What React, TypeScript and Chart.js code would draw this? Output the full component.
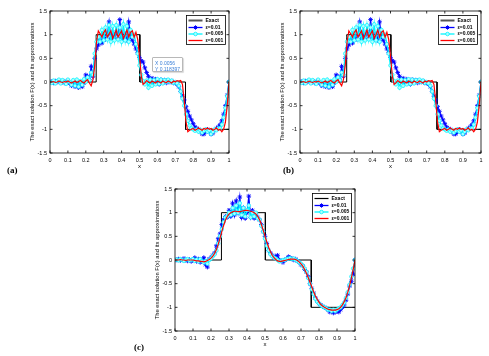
import React, { useEffect, useRef } from "react";
import { Chart, registerables } from "chart.js";
Chart.register(...registerables);

// ---------- data ----------
const exactX = [0, 0.258, 0.258, 0.502, 0.502, 0.757, 0.757, 1];
const exactY = [0, 0, 1, 1, 0, 0, -1, -1];

const xTicks = [0, 0.1, 0.2, 0.3, 0.4, 0.5, 0.6, 0.7, 0.8, 0.9, 1];
const yTicks = [-1.5, -1, -0.5, 0, 0.5, 1, 1.5];

// panels (a) and (b)
const blueAB = [
  0, 0.01, -0.02, 0.02, 0.0, 0.03, -0.01, 0.02, -0.02, 0.01,
  0.03, -0.03, -0.08, -0.05, -0.1, -0.06, -0.12, -0.05, -0.1, -0.02,
  0.15, 0.12, 0.05, 0.33, 0.12, 0.5, 0.7, 0.78, 0.9, 0.82,
  0.95, 0.9, 0.98, 1.27, 0.92, 1.0, 0.9, 1.05, 0.92, 1.32,
  0.95, 0.9, 1.02, 0.88, 1.27, 0.95, 0.88, 0.8, 0.7, 0.62,
  0.52, 0.45, 0.42, 0.3, 0.2, 0.12, 0.05, 0.08, -0.02, 0.06,
  0.02, -0.05, 0.05, 0.0, 0.04, -0.02, 0.03, 0.0, 0.02, -0.02,
  -0.02, -0.05, -0.1, -0.2, -0.3, -0.38, -0.52, -0.62, -0.72, -0.8,
  -0.88, -0.95, -0.98, -1.0, -1.05, -1.1, -1.1, -1.05, -1.0, -1.05,
  -1.1, -1.08, -1.02, -0.98, -0.95, -0.9, -0.82, -0.68, -0.5, -0.28,
  0,
];
const cyanAB = [
  0, -0.02, 0.03, -0.03, 0.02, 0.05, -0.03, 0.04, 0.0, -0.04,
  0.05, 0.0, -0.06, 0.04, -0.08, 0.05, -0.1, 0.02, -0.06, 0.06,
  0.0, 0.1, 0.04, 0.2, 0.15, 0.6, 0.85, 0.95, 0.85, 1.1,
  0.88, 1.15, 0.9, 1.2, 0.85, 1.18, 0.88, 1.2, 0.9, 1.15,
  0.85, 1.22, 0.88, 1.18, 0.85, 1.1, 0.95, 1.0, 0.8, 0.6,
  0.35, 0.15, 0.02, -0.05, 0.03, -0.12, 0.05, -0.08, 0.04, -0.05,
  0.06, -0.04, 0.05, -0.03, 0.04, 0.0, 0.05, 0.0, 0.03, -0.02,
  0.0, -0.03, -0.08, -0.2, -0.35, -0.5, -0.68, -0.82, -0.92, -0.98,
  -1.0, -1.03, -1.0, -1.05, -1.02, -1.07, -1.03, -1.0, -1.05, -1.02,
  -1.1, -1.05, -1.0, -1.02, -0.98, -0.98, -0.9, -0.75, -0.55, -0.3,
  0,
];
const redAB = [
  0, 0.0, 0.01, -0.01, 0.0, 0.02, 0.0, -0.01, 0.01, 0.0,
  0.02, 0.0, -0.02, 0.0, 0.02, -0.01, 0.01, 0.03, 0.0, -0.02,
  0.02, 0.05, -0.02, -0.08, 0.05, 0.35, 0.85, 1.08, 1.02, 0.95,
  1.05, 1.1, 0.95, 1.02, 1.08, 0.92, 1.0, 1.1, 0.95, 1.02,
  1.08, 0.92, 1.0, 1.1, 0.95, 1.05, 1.08, 0.95, 1.05, 0.9,
  0.55, 0.12, -0.05, -0.02, 0.03, 0.0, -0.02, 0.02, 0.0, -0.02,
  0.02, 0.0, -0.02, 0.02, 0.0, -0.01, 0.02, 0.0, -0.02, 0.02,
  0.0, 0.03, 0.02, 0.03, -0.05, -0.4, -0.85, -1.05, -1.02, -1.0,
  -0.98, -1.02, -1.0, -0.97, -1.0, -1.02, -0.98, -1.0, -0.97, -1.0,
  -0.98, -1.02, -1.0, -0.97, -1.02, -1.0, -1.05, -1.0, -0.85, -0.5,
  0,
];

// panel (c)
const blueC = [
  0, 0.0, 0.02, -0.01, 0.01, 0.03, 0.0, -0.02, 0.01, -0.03,
  0.0, 0.05, -0.03, 0.02, -0.05, -0.02, 0.05, -0.1, -0.15, 0.02,
  0.05, 0.1, 0.15, 0.3, 0.45, 0.55, 0.75, 0.85, 0.92, 0.9,
  1.05, 0.92, 1.2, 0.95, 1.25, 1.0, 1.33, 0.9, 1.1, 0.88,
  1.0, 1.35, 0.9, 1.05, 0.88, 0.95, 0.9, 0.85, 0.75, 0.6,
  0.5, 0.35, 0.2, 0.15, 0.1, 0.05, 0.08, 0.1, 0.0, -0.02,
  -0.05, 0.0, 0.02, 0.07, 0.05, 0.03, 0.0, 0.02, -0.02, -0.05,
  -0.1, -0.12, -0.2, -0.25, -0.35, -0.5, -0.6, -0.7, -0.8, -0.87,
  -0.92, -0.95, -0.98, -1.0, -1.02, -1.05, -1.1, -1.08, -1.12, -1.1,
  -1.08, -1.1, -1.05, -1.0, -0.95, -0.85, -0.72, -0.55, -0.45, -0.3,
  0,
];
const cyanC = [
  0, 0.01, -0.01, 0.02, 0.0, -0.02, 0.01, 0.02, -0.01, 0.0,
  0.02, -0.02, 0.01, -0.03, 0.02, -0.02, -0.05, -0.02, -0.08, 0.0,
  0.03, 0.08, 0.12, 0.2, 0.35, 0.5, 0.65, 0.8, 0.9, 0.92,
  1.0, 0.95, 1.1, 0.98, 1.15, 1.0, 1.2, 0.95, 1.1, 0.92,
  1.05, 1.15, 0.9, 1.0, 0.92, 1.0, 0.88, 0.85, 0.72, 0.6,
  0.45, 0.3, 0.2, 0.12, 0.08, 0.05, 0.03, 0.0, -0.03, -0.02,
  0.0, 0.0, 0.02, 0.03, 0.04, 0.02, 0.03, 0.0, -0.02, -0.05,
  -0.08, -0.12, -0.18, -0.25, -0.38, -0.5, -0.62, -0.72, -0.82, -0.88,
  -0.92, -0.96, -0.98, -1.0, -1.02, -1.05, -1.05, -1.08, -1.05, -1.08,
  -1.05, -1.02, -1.0, -0.95, -0.9, -0.8, -0.68, -0.52, -0.35, -0.18,
  0,
];
const redC = [
  0, 0, 0, 0.01, 0, 0, -0.01, 0, 0, 0,
  0, -0.01, -0.02, -0.02, -0.03, -0.03, -0.04, -0.03, -0.01, 0.01,
  0.04, 0.08, 0.14, 0.22, 0.33, 0.46, 0.6, 0.73, 0.84, 0.92,
  0.97, 1.0, 1.02, 1.03, 1.03, 1.02, 1.02, 1.03, 1.04, 1.05,
  1.05, 1.04, 1.03, 1.02, 1.0, 0.97, 0.92, 0.85, 0.75, 0.63,
  0.5, 0.38, 0.27, 0.18, 0.1, 0.05, 0.01, -0.02, -0.03, -0.03,
  -0.02, -0.01, 0.0, 0.01, 0.02, 0.02, 0.02, 0.01, -0.01, -0.04,
  -0.08, -0.13, -0.2, -0.28, -0.37, -0.47, -0.57, -0.67, -0.76, -0.83,
  -0.89, -0.94, -0.97, -1.0, -1.02, -1.04, -1.05, -1.06, -1.06, -1.06,
  -1.05, -1.03, -1.0, -0.95, -0.88, -0.8, -0.68, -0.54, -0.38, -0.2,
  0,
];

const legendLabels = ["Exact", "ε=0.01", "ε=0.005", "ε=0.001"];
const yTitle = "The exact solution F(x) and its approximations";

// ---------- helpers ----------
const toPts = (ys: number[]) => ys.map((y, i) => ({ x: i / (ys.length - 1), y }));
const exactPts = () => exactX.map((x, i) => ({ x, y: exactY[i] }));

const FONT = "'Liberation Sans', Arial, sans-serif";
const BLUE = "#0000ff";
const CYAN = "#00f4ff";
const RED = "#ff0000";

type PanelProps = {
  left: number;
  top: number;
  W: number;
  H: number;
  plot: { l: number; t: number; r: number; b: number };
  blue: number[];
  cyan: number[];
  red: number[];
  legendExactColor: string;
  legendExactWidth: number;
};

function Panel(p: PanelProps) {
  const ref = useRef<HTMLCanvasElement | null>(null);
  useEffect(() => {
    if (!ref.current) return;
    const yW = 22;
    const xH = 18;
    const framePlugin = {
      id: "frame",
      afterDatasetsDraw(chart: any) {
        const { ctx, chartArea: a, scales } = chart;
        ctx.save();
        ctx.strokeStyle = "#000";
        ctx.lineWidth = 0.8;
        ctx.strokeRect(a.left, a.top, a.right - a.left, a.bottom - a.top);
        const tl = 2.5;
        ctx.beginPath();
        xTicks.forEach((v) => {
          const px = scales.x.getPixelForValue(v);
          ctx.moveTo(px, a.bottom);
          ctx.lineTo(px, a.bottom - tl);
          ctx.moveTo(px, a.top);
          ctx.lineTo(px, a.top + tl);
        });
        yTicks.forEach((v) => {
          const py = scales.y.getPixelForValue(v);
          ctx.moveTo(a.left, py);
          ctx.lineTo(a.left + tl, py);
          ctx.moveTo(a.right, py);
          ctx.lineTo(a.right - tl, py);
        });
        ctx.stroke();

        // legend
        const bw = 39, bh = 29;
        const bx = a.right - 42.5, by = a.top + 4.5;
        ctx.fillStyle = "#fff";
        ctx.fillRect(bx, by, bw, bh);
        ctx.lineWidth = 0.8;
        ctx.strokeStyle = "#000";
        ctx.strokeRect(bx, by, bw, bh);
        const rows = [5, 12, 18.5, 25];
        const styles = [
          { c: p.legendExactColor, w: p.legendExactWidth, m: "" },
          { c: BLUE, w: 1.3, m: "star" },
          { c: CYAN, w: 1.3, m: "circle" },
          { c: RED, w: 1.3, m: "" },
        ];
        ctx.font = `bold 5px ${FONT}`;
        ctx.textBaseline = "middle";
        rows.forEach((ry, i) => {
          const y = by + ry;
          const s = styles[i];
          ctx.strokeStyle = s.c;
          ctx.lineWidth = s.w;
          ctx.beginPath();
          ctx.moveTo(bx + 2, y);
          ctx.lineTo(bx + 16, y);
          ctx.stroke();
          const mx = bx + 9;
          if (s.m === "star") {
            ctx.lineWidth = 1;
            ctx.beginPath();
            for (let k = 0; k < 4; k++) {
              const ang = (k * Math.PI) / 4;
              ctx.moveTo(mx - 2.2 * Math.cos(ang), y - 2.2 * Math.sin(ang));
              ctx.lineTo(mx + 2.2 * Math.cos(ang), y + 2.2 * Math.sin(ang));
            }
            ctx.stroke();
          } else if (s.m === "circle") {
            ctx.lineWidth = 0.8;
            ctx.fillStyle = "rgba(170,255,255,1)";
            ctx.beginPath();
            ctx.arc(mx, y, 1.8, 0, Math.PI * 2);
            ctx.fill();
            ctx.stroke();
          }
          ctx.fillStyle = "#000";
          ctx.textAlign = "left";
          ctx.fillText(legendLabels[i], bx + 19, y);
        });
        ctx.restore();
      },
    };

    const chart = new Chart(ref.current, {
      type: "line",
      data: {
        datasets: [
          {
            label: legendLabels[0],
            data: exactPts(),
            borderColor: "#000",
            borderWidth: 1,
            pointRadius: 0,
            order: 4,
          },
          {
            label: legendLabels[1],
            data: toPts(p.blue),
            borderColor: BLUE,
            backgroundColor: BLUE,
            borderWidth: 1.2,
            pointStyle: "star",
            pointRadius: 2.3,
            pointBorderWidth: 0.9,
            order: 3,
          },
          {
            label: legendLabels[2],
            data: toPts(p.cyan),
            borderColor: CYAN,
            backgroundColor: "rgba(170,255,255,1)",
            borderWidth: 1.4,
            pointStyle: "circle",
            pointRadius: 1.8,
            pointBorderWidth: 0.7,
            order: 2,
          },
          {
            label: legendLabels[3],
            data: toPts(p.red),
            borderColor: RED,
            borderWidth: 1.2,
            pointRadius: 0,
            order: 1,
          },
        ],
      },
      options: {
        animation: false,
        responsive: false,
        devicePixelRatio: 1,
        events: [],
        layout: {
          padding: {
            left: p.plot.l - yW,
            top: p.plot.t,
            right: p.W - p.plot.r,
            bottom: p.H - p.plot.b - xH,
          },
        },
        plugins: { legend: { display: false }, tooltip: { enabled: false } },
        scales: {
          x: {
            type: "linear",
            min: 0,
            max: 1,
            afterFit: (s: any) => { s.height = xH; },
            afterBuildTicks: (s: any) => { s.ticks = xTicks.map((v) => ({ value: v })); },
            grid: { display: false, drawTicks: false },
            border: { display: false },
            ticks: {
              padding: 4,
              maxRotation: 0,
              autoSkip: false,
              color: "#000",
              font: { size: 5.5, family: FONT },
              callback: (v: any) => String(Math.round(Number(v) * 10) / 10),
            },
            title: {
              display: true,
              text: "x",
              color: "#000",
              padding: { top: 0, bottom: 1 },
              font: { size: 6, family: FONT },
            },
          },
          y: {
            type: "linear",
            min: -1.5,
            max: 1.5,
            afterFit: (s: any) => { s.width = yW; },
            afterBuildTicks: (s: any) => { s.ticks = yTicks.map((v) => ({ value: v })); },
            grid: { display: false, drawTicks: false },
            border: { display: false },
            ticks: {
              padding: 3,
              autoSkip: false,
              color: "#000",
              font: { size: 5.5, family: FONT },
              callback: (v: any) => String(v),
            },
            title: {
              display: true,
              text: yTitle,
              color: "#000",
              padding: { top: 1, bottom: 0 },
              font: { size: 5.8, family: FONT },
            },
          },
        },
      },
      plugins: [framePlugin],
    } as any);
    return () => chart.destroy();
  }, []);
  return (
    <canvas
      ref={ref}
      width={p.W}
      height={p.H}
      style={{ position: "absolute", left: p.left, top: p.top, width: p.W, height: p.H }}
    />
  );
}

const labelStyle = (left: number, top: number): React.CSSProperties => ({
  position: "absolute",
  left,
  top,
  font: "bold 9px 'Liberation Serif', serif",
  color: "#000",
  lineHeight: "10px",
});

export default function App() {
  return (
    <div style={{ position: "absolute", left: 0, top: 0, width: 489, height: 356, background: "#fff", overflow: "hidden" }}>
      <Panel left={0} top={0} W={240} H={180} plot={{ l: 50, t: 11, r: 229, b: 153 }}
        blue={blueAB} cyan={cyanAB} red={redAB} legendExactColor="#555" legendExactWidth={2} />
      <Panel left={249} top={0} W={240} H={180} plot={{ l: 51, t: 11, r: 232, b: 153 }}
        blue={blueAB} cyan={cyanAB} red={redAB} legendExactColor="#555" legendExactWidth={2} />
      <Panel left={125} top={178} W={240} H={178} plot={{ l: 50, t: 11, r: 230, b: 153 }}
        blue={blueC} cyan={cyanC} red={redC} legendExactColor="#000" legendExactWidth={1.2} />
      <div
        style={{
          position: "absolute",
          left: 152,
          top: 57,
          width: 31,
          height: 15,
          border: "1px solid #b8b8b8",
          borderRadius: 1,
          background: "#fff",
          boxShadow: "1px 1px 1px rgba(0,0,0,0.15)",
          font: `5px ${FONT}`,
          color: "#3a7fd8",
          lineHeight: "6px",
          padding: "1.5px 0 0 2px",
          boxSizing: "border-box",
          whiteSpace: "nowrap",
        }}
      >
        <div>X 0.0056</div>
        <div>Y 0.118397</div>
      </div>
      <div style={labelStyle(7, 165)}>(a)</div>
      <div style={labelStyle(283, 165)}>(b)</div>
      <div style={labelStyle(134, 342)}>(c)</div>
    </div>
  );
}
